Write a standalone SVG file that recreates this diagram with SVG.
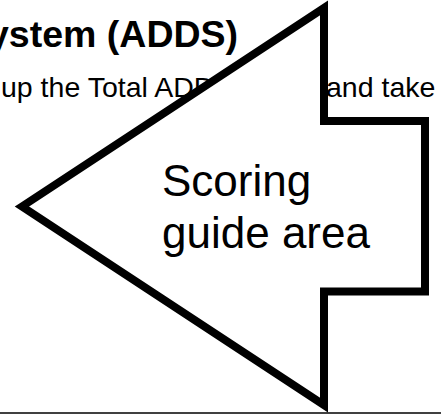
<svg xmlns="http://www.w3.org/2000/svg" width="441" height="416" viewBox="0 0 441 416">
  <style>
    .txt { font-family: "Liberation Sans", Arial, Helvetica, sans-serif; fill: #000; }
    .heading { font-size: 37.5px; font-weight: bold; }
    .body { font-size: 28.5px; }
    .label { font-size: 44px; }
    .arrow { fill: #fff; stroke: #000; stroke-width: 8; stroke-linejoin: miter; stroke-miterlimit: 10; }
  </style>
  <rect width="441" height="416" fill="#fff"/>

  <!-- page text behind the callout -->
  <g id="page-text">
    <text class="txt heading" x="-12" y="47">ystem (ADDS)</text>
    <text class="txt body" x="1" y="97">up the Total ADD</text>
    <text class="txt body" x="326" y="97">and take</text>
  </g>

  <!-- rule at the bottom of the page -->
  <line x1="0" y1="413" x2="441" y2="413" stroke="#000" stroke-width="1.5"/>

  <!-- left-pointing callout arrow -->
  <g id="scoring-arrow">
    <polygon class="arrow" points="22,206.5 324,8 324,121 425,121 425,291.5 324,291.5 324,405"/>
    <text class="txt label" x="162" y="196">Scoring</text>
    <text class="txt label" x="162" y="248">guide area</text>
  </g>
</svg>
